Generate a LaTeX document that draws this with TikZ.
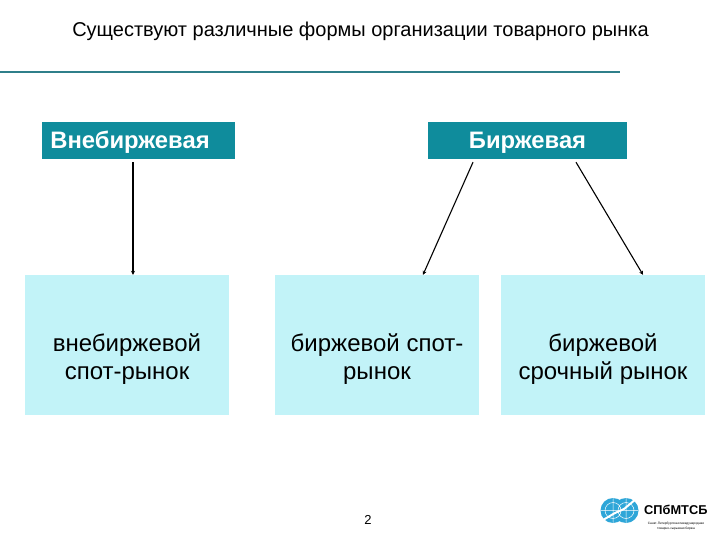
\documentclass[tikz,border=0pt]{standalone}
\usepackage{fontspec}
\setmainfont{Liberation Sans}
\usetikzlibrary{arrows.meta}
\definecolor{headfill}{HTML}{0F8C9C}
\definecolor{rulecol}{HTML}{2F7F8A}
\definecolor{leaffill}{HTML}{C2F3F8}
\definecolor{logoblue}{HTML}{2EA6D8}
\newcommand{\leafdrop}{\rule{0pt}{46pt}}
\tikzset{
  headbox/.style={fill=headfill, text=white, minimum height=37pt, inner sep=0pt, text height=20pt, text depth=3pt, font=\bfseries\fontsize{23.8}{28}\selectfont},
  leafbox/.style={fill=leaffill, minimum width=204pt, minimum height=140pt, inner sep=0pt, align=center, font=\fontsize{24}{28.5}\selectfont},
  tie/.style={-{Stealth[length=4pt,width=4pt]}, line width=1.1pt, black}
}
\begin{document}
\begin{tikzpicture}[x=1pt, y=-1pt]
\useasboundingbox (0,0) rectangle (720,540);
\fill [white] (0,0) rectangle (720,540);
% title and rule
\node (title) at (360.5,31) {\fontsize{20}{24}\selectfont Существуют различные формы организации товарного рынка};
\draw [rulecol, line width=2pt] (0,72) -- (620,72);
% heads
\node [headbox, minimum width=193pt] (otc) at (138.5,140.5) {\hspace*{-17pt}Внебиржевая};
\node [headbox, minimum width=199pt] (exch) at (527.5,140.5) {Биржевая};
% leaves
\node [leafbox] (otcspot) at (127,345) {\leafdrop внебиржевой\\спот-рынок};
\node [leafbox] (exchspot) at (377,345) {\leafdrop биржевой спот-\\рынок};
\node [leafbox] (exchfut) at (603,345) {\leafdrop биржевой\\срочный рынок};
% arrows
\draw [tie] ([xshift=-5.5pt,yshift=-3pt]otc.south) -- ([xshift=6pt]otcspot.north);
\draw [tie] ([xshift=-54.5pt,yshift=-3pt]exch.south) -- ([xshift=46pt]exchspot.north);
\draw [tie] ([xshift=48.5pt,yshift=-3pt]exch.south) -- ([xshift=40pt]exchfut.north);
% page number
\node (pagenum) at (368,519.5) {\fontsize{13}{15}\selectfont 2};
% logo
\begin{scope}
\fill [logoblue] (613,510.5) circle (12.5) (626,510.5) circle (12.5);
\draw [white, line width=.5pt] (613,510.5) circle (8) (626,510.5) circle (8) (601,510.5) -- (638,510.5) (613,498) -- (613,523) (626,498) -- (626,523);
\draw [white, line width=2pt] (603,520) -- (615,513) -- (624,509) -- (636,499);
\end{scope}
\node [anchor=west, inner sep=0pt] (logotext) at (644,509.5) {\bfseries\fontsize{12.8}{15}\selectfont СПбМТСБ};
\node [anchor=north, inner sep=0pt, align=center, font=\fontsize{3.2}{5}\selectfont] (logosub) at (676,522) {Санкт-Петербургская международная\\товарно-сырьевая биржа};
\end{tikzpicture}
\end{document}
